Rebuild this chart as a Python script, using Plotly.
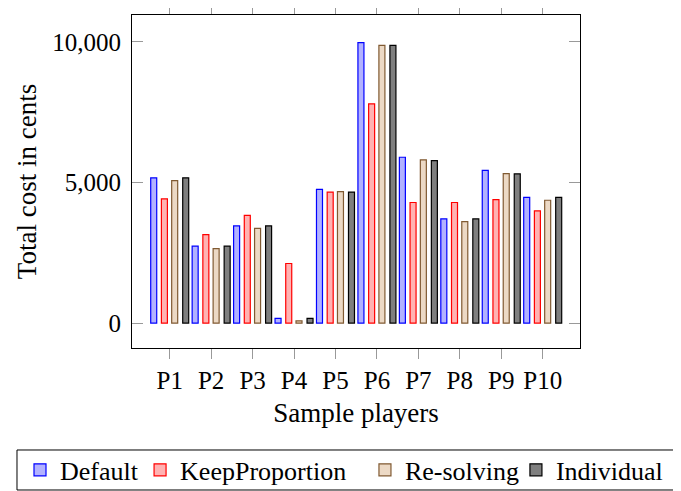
import plotly.graph_objects as go

players = ["P1", "P2", "P3", "P4", "P5", "P6", "P7", "P8", "P9", "P10"]
default = [5170, 2740, 3460, 170, 4760, 9980, 5900, 3710, 5430, 4470]
keep_proportion = [4420, 3150, 3830, 2120, 4660, 7800, 4290, 4290, 4390, 3990]
re_solving = [5070, 2650, 3370, 80, 4680, 9880, 5810, 3610, 5320, 4370]
individual = [5170, 2740, 3460, 170, 4660, 9880, 5780, 3710, 5310, 4470]

series = [
    ("Default", default, "rgba(0,0,255,0.3)", "rgb(0,0,255)", -0.386, "legend", -0.25),
    ("KeepProportion", keep_proportion, "rgba(255,0,0,0.3)", "rgb(255,0,0)", -0.128, "legend2", 0.018),
    ("Re-solving", re_solving, "rgba(191,128,64,0.3)", "rgb(128,90,50)", 0.12, "legend3", 0.520),
    ("Individual", individual, "rgba(0,0,0,0.5)", "rgb(0,0,0)", 0.386, "legend4", 0.857),
]

xpos = list(range(1, len(players) + 1))
bw = 0.145
font_family = "Liberation Serif"
fig = go.Figure()
legends = {}
for name, vals, fill, line, off, leg, lx in series:
    fig.add_trace(go.Bar(
        x=xpos, y=vals, name=name, legend=leg,
        width=bw, offset=off - bw / 2,
        marker=dict(color=fill, line=dict(color=line, width=1.2)),
    ))
    legends[leg] = dict(
        orientation="h", x=lx, y=-0.366, xanchor="left", yanchor="middle",
        borderwidth=0, bgcolor="rgba(0,0,0,0)", font=dict(size=26),
        itemwidth=30,
    )

# the page adds an 8px body margin, so the figure is 8px smaller and margins shifted
fig.update_layout(
    width=673, height=483,
    barmode="overlay",
    plot_bgcolor="white", paper_bgcolor="white",
    margin=dict(l=124, r=101, t=7, b=143, autoexpand=False),
    font=dict(family=font_family, size=25, color="black"),
    showlegend=True,
    **legends,
    shapes=[dict(type="rect", xref="paper", yref="paper",
                 x0=-0.2567, x1=1.5, y0=-0.4264, y1=-0.3063,
                 line=dict(color="black", width=1), fillcolor="rgba(0,0,0,0)")],
)
fig.update_xaxes(
    range=[0.09, 10.9], tickvals=xpos, ticktext=players,
    ticks="outside", ticklen=10, tickcolor="#999", mirror="ticks",
    showline=True, linecolor="black", linewidth=1, showgrid=False, zeroline=False,
    title=dict(text="Sample players", standoff=10, font=dict(size=27)),
)
fig.update_yaxes(
    range=[-885, 10960], tickvals=[0, 5000, 10000], tickformat=",d",
    ticks="inside", ticklen=11, tickcolor="#999", mirror="ticks",
    showline=True, linecolor="black", linewidth=1, showgrid=False, zeroline=False,
    ticklabelstandoff=5,
    title=dict(text="Total cost in cents", standoff=7, font=dict(size=27)),
)
fig.write_html("out.html")
